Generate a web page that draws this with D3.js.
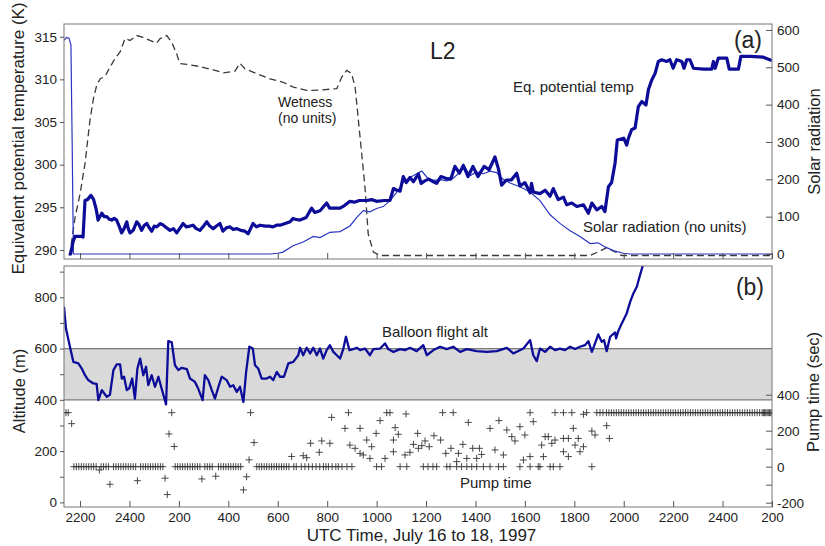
<!DOCTYPE html>
<html>
<head>
<meta charset="utf-8">
<script src="https://cdn.jsdelivr.net/npm/d3@7"></script>
<style>
  body { margin: 0; background: #fff; }
  text { font-family: "Liberation Sans", Arial, Helvetica, sans-serif; fill: #222; }
  .tick text { font-size: 13.5px; fill: #222; }
  .tick line { stroke: #555; }
</style>
</head>
<body>
<svg id="chart" width="825" height="546"></svg>
<script>
// time is hours after 00:00 on July 16 (22 = 2200 July 16, 50 = 0200 July 18)
var timeTicks = [22, 24, 26, 28, 30, 32, 34, 36, 38, 40, 42, 44, 46, 48, 50];
var tempTicks = [290, 295, 300, 305, 310, 315];
var solarTicks = [0, 100, 200, 300, 400, 500, 600];
var altTicks = [0, 100, 200, 300, 400, 500, 600, 700, 800, 900];
var pumpTicks = [-200, -100, 0, 100, 200, 300, 400];

// equivalent potential temperature (K)
var eqTemp = [[21.58, 289.4], [21.62, 289.6], [21.72, 291.0], [21.8, 291.6], [22.05, 291.6], [22.12, 291.5],
  [22.2, 295.8], [22.3, 295.9], [22.44, 296.4], [22.55, 295.9], [22.65, 294.8], [22.73, 293.5], [22.88, 294.3],
  [22.98, 293.9], [23.08, 293.9], [23.18, 293.6], [23.28, 293.5], [23.38, 293.7], [23.48, 293.5], [23.58, 292.8],
  [23.68, 292.0], [23.78, 292.5], [23.89, 293.3], [23.95, 292.5], [24.02, 292.0], [24.15, 292.3], [24.29, 293.3],
  [24.38, 293.0], [24.49, 292.3], [24.6, 292.9], [24.7, 293.1], [24.8, 292.6], [24.9, 292.2], [25.0, 292.8],
  [25.1, 292.7], [25.25, 293.1], [25.37, 292.9], [25.5, 292.6], [25.64, 292.3], [25.78, 292.5], [25.91, 292.0],
  [26.05, 292.6], [26.17, 293.1], [26.3, 292.7], [26.45, 292.8], [26.57, 292.9], [26.7, 292.5], [26.85, 292.3],
  [27.0, 292.8], [27.13, 293.3], [27.25, 292.8], [27.39, 292.5], [27.52, 292.8], [27.66, 293.1], [27.78, 292.2],
  [27.92, 292.6], [28.07, 292.7], [28.2, 292.4], [28.34, 292.5], [28.5, 292.3], [28.67, 292.2], [28.8, 291.9],
  [28.9, 292.5], [29.0, 293.1], [29.14, 292.7], [29.28, 292.9], [29.5, 292.8], [29.65, 292.8], [29.81, 292.7],
  [29.95, 292.9], [30.09, 292.9], [30.3, 293.1], [30.5, 293.3], [30.62, 293.7], [30.7, 293.6], [30.9, 293.5],
  [31.15, 293.8], [31.37, 294.9], [31.5, 294.4], [31.71, 294.6], [31.98, 295.5], [32.1, 294.9], [32.25, 294.9],
  [32.52, 294.9], [32.7, 295.2], [32.92, 295.7], [33.1, 295.6], [33.3, 295.8], [33.6, 295.8], [33.8, 295.9],
  [34.0, 295.7], [34.3, 295.8], [34.54, 295.8], [34.68, 297.2], [34.82, 297.0], [34.95, 296.9], [35.08, 298.6],
  [35.2, 297.9], [35.35, 298.5], [35.49, 298.0], [35.69, 298.9], [35.8, 297.8], [35.95, 298.1], [36.1, 298.3],
  [36.3, 298.0], [36.43, 297.8], [36.6, 298.6], [36.8, 298.4], [37.0, 298.3], [37.17, 299.8], [37.35, 299.0],
  [37.51, 299.9], [37.7, 298.6], [37.9, 299.8], [38.1, 298.6], [38.35, 299.8], [38.55, 299.4], [38.79, 300.9],
  [38.93, 299.5], [39.06, 297.6], [39.25, 298.2], [39.45, 298.2], [39.67, 299.0], [39.8, 297.5], [40.0, 297.9],
  [40.21, 296.7], [40.27, 297.8], [40.34, 296.8], [40.61, 296.6], [40.82, 297.0], [41.02, 296.3], [41.15, 297.2],
  [41.35, 295.9], [41.56, 296.2], [41.69, 295.3], [41.9, 295.5], [42.1, 295.1], [42.37, 295.3], [42.57, 294.3],
  [42.71, 295.5], [42.91, 294.7], [43.11, 295.1], [43.24, 294.5], [43.38, 297.4], [43.51, 297.9], [43.65, 300.2],
  [43.74, 302.9], [44.0, 303.1], [44.12, 302.3], [44.19, 303.1], [44.32, 304.1], [44.46, 304.3], [44.59, 306.8],
  [44.73, 307.4], [44.9, 307.0], [45.0, 308.8], [45.13, 309.9], [45.27, 310.7], [45.4, 312.1], [45.54, 312.3],
  [45.74, 312.1], [45.87, 312.3], [46.0, 311.3], [46.14, 312.3], [46.35, 312.1], [46.44, 311.3], [46.55, 312.3],
  [46.68, 312.3], [46.82, 311.3], [47.22, 311.2], [47.56, 311.2], [47.63, 312.1], [47.7, 311.3], [47.83, 312.5],
  [48.17, 312.5], [48.27, 311.2], [48.64, 311.2], [48.74, 312.7], [49.11, 312.7], [49.65, 312.6], [49.99, 312.2]];

// solar radiation (right axis, no units)
var solar = [[21.35, 572], [21.45, 580], [21.55, 578], [21.63, 560], [21.68, 300], [21.73, 0], [29.69, 0],
  [30.0, 2], [30.21, 5], [30.62, 22], [31.03, 32], [31.44, 47], [31.71, 44], [32.11, 58], [32.52, 60],
  [32.92, 75], [33.2, 98], [33.46, 116], [33.73, 113], [34.0, 122], [34.27, 127], [34.54, 143], [34.81, 165],
  [35.08, 192], [35.35, 205], [35.62, 215], [35.83, 222], [36.04, 205], [36.3, 197], [36.57, 199], [36.84, 196],
  [37.1, 203], [37.31, 215], [37.51, 240], [37.78, 210], [38.05, 220], [38.32, 215], [38.59, 222], [38.86, 218],
  [39.12, 200], [39.4, 190], [39.8, 180], [40.21, 166], [40.61, 143], [41.02, 105], [41.42, 82], [41.83, 62],
  [42.23, 47], [42.64, 28], [42.97, 30], [43.24, 19], [43.58, 9], [43.99, 2], [44.26, 0], [50, 0]];

// wetness (right axis, no units)
var wetness = [[21.55, -4], [21.59, 0], [21.8, 99], [22.0, 161], [22.2, 242], [22.4, 358], [22.54, 416],
  [22.67, 451], [22.81, 469], [23.01, 476], [23.21, 500], [23.41, 523], [23.62, 541], [23.82, 577], [24.02, 572],
  [24.29, 585], [24.55, 580], [24.83, 572], [25.1, 565], [25.24, 577], [25.51, 585], [25.71, 567], [25.91, 536],
  [26.04, 510], [26.32, 508], [26.85, 502], [27.39, 493], [27.8, 485], [28.27, 490], [28.47, 511], [28.67, 496],
  [29.15, 483], [29.69, 469], [30.22, 460], [30.63, 447], [31.17, 438], [31.71, 439], [32.39, 443], [32.59, 474],
  [32.79, 492], [32.99, 483], [33.13, 447], [33.33, 313], [33.53, 179], [33.66, 54], [33.87, 5], [34.14, -4],
  [42.64, -4], [43.04, 8], [43.33, 18], [43.57, 8], [43.93, -4], [50, -4]];

// balloon flight altitude (m)
var balloonAlt = [[21.35, 763], [21.43, 678], [21.59, 607], [21.73, 548], [21.93, 542], [22.07, 522], [22.2, 496],
  [22.33, 477], [22.54, 464], [22.67, 462], [22.74, 399], [22.88, 438], [23.08, 412], [23.21, 420], [23.35, 516],
  [23.48, 538], [23.62, 538], [23.69, 483], [23.78, 490], [23.89, 438], [23.99, 445], [24.11, 483], [24.22, 405],
  [24.32, 522], [24.43, 561], [24.56, 496], [24.67, 529], [24.76, 457], [24.9, 496], [25.03, 451], [25.17, 490],
  [25.3, 444], [25.48, 382], [25.57, 629], [25.71, 624], [25.84, 535], [25.98, 516], [26.11, 525], [26.32, 520],
  [26.45, 483], [26.65, 470], [26.78, 444], [26.96, 399], [27.05, 496], [27.19, 477], [27.33, 438], [27.46, 405],
  [27.6, 451], [27.73, 490], [27.93, 477], [28.07, 451], [28.2, 457], [28.34, 431], [28.47, 451], [28.61, 392],
  [28.72, 509], [28.85, 607], [28.99, 600], [29.08, 535], [29.21, 522], [29.35, 483], [29.55, 483], [29.69, 490],
  [29.82, 477], [29.96, 509], [30.09, 490], [30.25, 490], [30.43, 542], [30.63, 548], [30.83, 574], [30.9, 603],
  [31.03, 574], [31.17, 603], [31.31, 581], [31.44, 603], [31.58, 574], [31.71, 600], [31.84, 561], [31.98, 594],
  [32.11, 613], [32.25, 587], [32.39, 574], [32.52, 561], [32.65, 598], [32.76, 646], [32.9, 594], [33.06, 598],
  [33.2, 603], [33.33, 594], [33.53, 600], [33.73, 574], [33.87, 598], [34.14, 600], [34.34, 620], [34.47, 598],
  [34.68, 587], [34.95, 598], [35.15, 594], [35.35, 603], [35.62, 590], [35.89, 613], [36.03, 574], [36.3, 594],
  [36.57, 607], [36.84, 598], [37.1, 607], [37.38, 587], [37.65, 598], [38.05, 590], [38.46, 587], [38.86, 590],
  [39.27, 603], [39.53, 581], [39.94, 600], [40.21, 633], [40.34, 574], [40.48, 551], [40.61, 600], [40.82, 587],
  [41.02, 607], [41.22, 594], [41.42, 600], [41.62, 594], [41.83, 607], [42.03, 598], [42.23, 607], [42.43, 613],
  [42.57, 629], [42.71, 587], [42.84, 620], [42.97, 655], [43.11, 626], [43.2, 633], [43.31, 590], [43.45, 646],
  [43.65, 663], [43.69, 640], [43.78, 668], [43.92, 698], [44.12, 737], [44.26, 782], [44.39, 815], [44.53, 841],
  [44.66, 887], [44.77, 923], [45.06, 1000]];

// pump time (sec): times logged at 0 s, times logged at 300 s, and the other readings
var pumpZeroTimes = [21.75, 21.85, 21.95, 22.05, 22.15, 22.25, 22.35, 22.45, 22.55, 22.65, 22.85, 22.95, 23.05,
  23.15, 23.35, 23.45, 23.55, 23.65, 23.75, 23.85, 23.95, 24.05, 24.15, 24.25, 24.45, 24.55, 24.65, 24.75, 24.85,
  24.95, 25.05, 25.15, 25.25, 25.35, 25.85, 25.95, 26.05, 26.15, 26.25, 26.35, 26.45, 26.55, 26.65, 26.75, 26.85,
  27.05, 27.15, 27.25, 27.35, 27.6, 27.7, 27.8, 27.9, 28.0, 28.1, 28.2, 28.3, 28.4, 28.5, 29.15, 29.25, 29.35,
  29.45, 29.55, 29.65, 29.75, 29.85, 29.95, 30.05, 30.15, 30.25, 30.35, 30.45, 30.65, 30.75, 30.95, 31.1, 31.25,
  31.4, 31.55, 31.7, 31.85, 31.95, 32.05, 32.2, 32.35, 32.45, 32.6, 32.8, 33.0, 34.0, 34.2, 34.95, 35.22, 35.89,
  36.08, 36.28, 36.43, 36.84, 36.97, 37.24, 37.44, 37.65, 37.85, 38.05, 38.32, 38.59, 38.93, 39.13, 39.8, 40.21,
  40.54, 40.61, 41.02, 41.15, 41.42, 42.71];
var pumpMaxTimes = [21.43, 21.52, 25.71, 28.9, 32.86, 34.41, 34.54, 36.67, 37.1, 40.21, 41.22, 41.56, 41.9, 42.5,
  42.91, 43.04, 43.16, 43.3, 43.4, 43.5, 43.6, 43.7, 43.8, 43.9, 44.0, 44.1, 44.2, 44.3, 44.4, 44.5, 44.6, 44.7,
  44.8, 44.9, 45.0, 45.1, 45.2, 45.3, 45.4, 45.5, 45.6, 45.7, 45.8, 45.9, 46.0, 46.1, 46.2, 46.3, 46.4, 46.5,
  46.6, 46.7, 46.8, 46.9, 47.0, 47.1, 47.2, 47.3, 47.4, 47.5, 47.6, 47.7, 47.8, 47.9, 48.0, 48.1, 48.2, 48.3,
  48.4, 48.5, 48.6, 48.7, 48.8, 48.9, 49.0, 49.1, 49.2, 49.3, 49.4, 49.5, 49.6, 49.65, 49.7, 49.75, 49.8, 49.85,
  49.9, 49.95, 50.0];
var pumpMaxValue = 300;
var pumpOther = [[21.66, 239], [22.78, -18], [23.21, -98], [24.32, -78], [25.44, -64], [25.53, -155], [25.6, 182],
  [25.81, 112], [26.93, -68], [27.49, -53], [28.61, -129], [28.74, -56], [28.84, 38], [29.04, 134], [30.56, 57],
  [31.03, 61], [31.17, 50], [31.33, 130], [31.68, 80], [31.78, 143], [32.11, 130], [32.18, 274], [32.72, 213],
  [32.92, 120], [33.13, 102], [33.33, 213], [33.33, 74], [33.46, 65], [33.6, 148], [33.73, 46], [33.8, 111],
  [33.98, 185], [34.14, 256], [34.34, 46], [34.68, 83], [34.68, 148], [34.75, 217], [34.88, 180], [35.15, 65],
  [35.19, 293], [35.35, 80], [35.49, 124], [35.66, 185], [35.69, 102], [35.83, 117], [35.96, 143], [36.13, 111],
  [36.32, 172], [36.59, 148], [36.8, 74], [37.01, 102], [37.24, 28], [37.31, 74], [37.49, 124], [37.71, 246],
  [37.65, 46], [37.89, 102], [38.05, 46], [38.16, 102], [38.25, 68], [38.59, 213], [38.79, 93], [38.95, 256],
  [39.13, 65], [39.27, 204], [39.47, 167], [39.6, 143], [39.8, 222], [39.94, 37], [40.0, 176], [40.21, 56],
  [40.34, 250], [40.68, 120], [40.75, 56], [40.82, 167], [40.95, 167], [41.09, 130], [41.22, 148], [41.56, 157],
  [41.56, 83], [41.76, 157], [41.76, 56], [41.96, 213], [42.03, 120], [42.16, 157], [42.23, 83], [42.37, 111],
  [42.37, 291], [42.71, 198], [42.84, 176], [43.31, 228], [43.42, 157]];

// altitude band shaded in panel (b)
var altBand = [400, 600];

var svg = d3.select("#chart");
var left = 64, right = 772;
var topA = 24, botA = 259, topB = 266, botB = 507;

var x = d3.scaleLinear().domain([21.35, 50]).range([left, right]);
var yTemp = d3.scaleLinear().domain([288.94, 316.49]).range([botA, topA]);
var ySolar = d3.scaleLinear().domain([-13.4, 616]).range([botA, topA]);
var yAlt = d3.scaleLinear().domain([-18, 922]).range([botB, topB]);
var yPump = d3.scaleLinear().domain([-224, 1115]).range([botB, topB]);

function timeLabel(h) {
  var hh = h % 24;
  return hh === 0 ? "2400" : String(hh * 100);
}

var defs = svg.append("defs");
defs.append("clipPath").attr("id", "clipA").append("rect")
  .attr("x", left).attr("y", topA).attr("width", right - left).attr("height", botA - topA);
defs.append("clipPath").attr("id", "clipB").append("rect")
  .attr("x", left).attr("y", topB).attr("width", right - left).attr("height", botB - topB);

// ---------- panel (a) ----------
var gA = svg.append("g").attr("clip-path", "url(#clipA)");

gA.append("path")
  .datum(wetness)
  .attr("fill", "none")
  .attr("stroke", "#3a3a3a")
  .attr("stroke-width", 1.3)
  .attr("stroke-dasharray", "7,4")
  .attr("d", d3.line().x(function(d) { return x(d[0]); }).y(function(d) { return ySolar(d[1]); }));

gA.append("path")
  .datum(solar)
  .attr("fill", "none")
  .attr("stroke", "#2a36c0")
  .attr("stroke-width", 1.2)
  .attr("d", d3.line().x(function(d) { return x(d[0]); }).y(function(d) { return ySolar(d[1]); }));

gA.append("path")
  .datum(eqTemp)
  .attr("fill", "none")
  .attr("stroke", "#0c0c98")
  .attr("stroke-width", 3.2)
  .attr("stroke-linejoin", "round")
  .attr("d", d3.line().x(function(d) { return x(d[0]); }).y(function(d) { return yTemp(d[1]); }));

svg.append("rect")
  .attr("x", left).attr("y", topA).attr("width", right - left).attr("height", botA - topA)
  .attr("fill", "none").attr("stroke", "#777").attr("stroke-width", 1);

svg.append("g")
  .attr("transform", "translate(" + left + ",0)")
  .call(d3.axisLeft(yTemp).tickValues(tempTicks).tickSize(4).tickPadding(3))
  .call(function(g) { g.select(".domain").remove(); });

svg.append("g")
  .attr("transform", "translate(" + right + ",0)")
  .call(d3.axisRight(ySolar).tickValues(solarTicks).tickSize(-6).tickPadding(5))
  .call(function(g) { g.select(".domain").remove(); });

svg.append("g")
  .attr("transform", "translate(0," + botA + ")")
  .call(d3.axisBottom(x).tickValues(timeTicks).tickSize(-6).tickFormat(""))
  .call(function(g) { g.select(".domain").remove(); });

// ---------- panel (b) ----------
var gB = svg.append("g").attr("clip-path", "url(#clipB)");

gB.append("rect")
  .attr("x", left).attr("width", right - left)
  .attr("y", yAlt(altBand[1])).attr("height", yAlt(altBand[0]) - yAlt(altBand[1]))
  .attr("fill", "#d9d9d9");
gB.selectAll(".bandline")
  .data(altBand)
  .enter().append("line")
  .attr("x1", left).attr("x2", right)
  .attr("y1", function(d) { return yAlt(d); }).attr("y2", function(d) { return yAlt(d); })
  .attr("stroke", "#7a7a7a").attr("stroke-width", 1.2);

gB.append("path")
  .datum(balloonAlt)
  .attr("fill", "none")
  .attr("stroke", "#0c0c98")
  .attr("stroke-width", 2.3)
  .attr("stroke-linejoin", "round")
  .attr("d", d3.line().x(function(d) { return x(d[0]); }).y(function(d) { return yAlt(d[1]); }));

var pumpPoints = pumpZeroTimes.map(function(t) { return [t, 0]; })
  .concat(pumpMaxTimes.map(function(t) { return [t, pumpMaxValue]; }))
  .concat(pumpOther);

gB.selectAll(".pump")
  .data(pumpPoints)
  .enter().append("path")
  .attr("class", "pump")
  .attr("transform", function(d) { return "translate(" + x(d[0]) + "," + yPump(d[1]) + ")"; })
  .attr("d", "M-3.5,0H3.5M0,-3.5V3.5")
  .attr("stroke", "#333")
  .attr("stroke-width", 0.9)
  .attr("fill", "none");

svg.append("rect")
  .attr("x", left).attr("y", topB).attr("width", right - left).attr("height", botB - topB)
  .attr("fill", "none").attr("stroke", "#777").attr("stroke-width", 1);

svg.append("g")
  .attr("transform", "translate(" + left + ",0)")
  .call(d3.axisLeft(yAlt).tickValues(altTicks).tickSize(4).tickPadding(3)
    .tickFormat(function(d) { return d % 200 === 0 ? d : ""; }))
  .call(function(g) { g.select(".domain").remove(); });

svg.append("g")
  .attr("transform", "translate(" + right + ",0)")
  .call(d3.axisRight(yPump).tickValues(pumpTicks).tickSize(-6).tickPadding(5)
    .tickFormat(function(d) { return d % 200 === 0 ? d : ""; }))
  .call(function(g) { g.select(".domain").remove(); });

svg.append("g")
  .attr("transform", "translate(0," + botB + ")")
  .call(d3.axisBottom(x).tickValues(timeTicks).tickSize(-6).tickPadding(5).tickFormat(timeLabel))
  .call(function(g) { g.select(".domain").remove(); });

// ---------- labels ----------
function label(txt, px, py, size, anchor) {
  svg.append("text").attr("x", px).attr("y", py)
    .attr("font-size", size + "px")
    .attr("text-anchor", anchor || "start")
    .text(txt);
}
label("L2", 430, 59, 23);
label("(a)", 762, 48, 23, "end");
label("(b)", 764, 295, 23, "end");
label("Wetness", 278, 106.5, 14);
label("(no units)", 278, 122.5, 14);
label("Eq. potential temp", 513, 92, 15);
label("Solar radiation (no units)", 583, 232, 15);
label("Balloon flight alt", 382, 337, 15);
label("Pump time", 460, 488, 15);
label("UTC Time, July 16 to 18, 1997", 421.5, 541, 17, "middle");

function vlabel(txt, px, py, size) {
  svg.append("text")
    .attr("transform", "translate(" + px + "," + py + ") rotate(-90)")
    .attr("font-size", size + "px")
    .attr("text-anchor", "middle")
    .text(txt);
}
vlabel("Equivalent potential temperature (K)", 24, 138.5, 17);
vlabel("Altitude (m)", 25, 391, 16.5);
vlabel("Solar radiation", 820, 141.5, 16.5);
vlabel("Pump time (sec)", 819, 392, 16.5);
</script>
</body>
</html>
